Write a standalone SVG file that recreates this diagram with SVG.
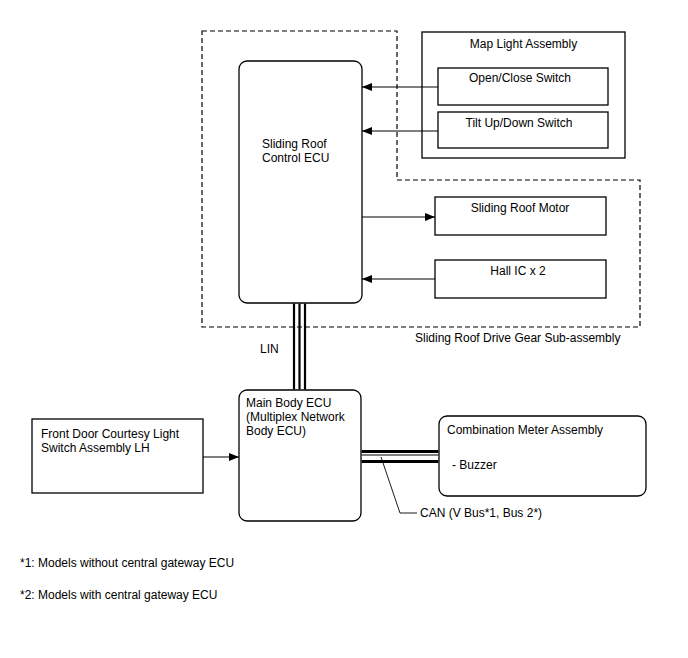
<svg xmlns="http://www.w3.org/2000/svg" width="688" height="658" viewBox="0 0 688 658">
<style>
text{font-family:"Liberation Sans",Arial,sans-serif;font-size:12px;fill:#000}
.box{fill:#fff;stroke:#000;stroke-width:1.3}
.ln{fill:none;stroke:#000;stroke-width:1.2}
.dash{fill:none;stroke:#000;stroke-width:1.2;stroke-dasharray:5,3}
.c{text-anchor:middle}
</style>
<defs>
<marker id="ah" markerWidth="10" markerHeight="8" refX="10" refY="4" orient="auto" markerUnits="userSpaceOnUse">
<path d="M0,0 L10,4 L0,8 Z" fill="#000"/>
</marker>
</defs>
<rect width="688" height="658" fill="#fff"/>

<g id="drive-gear-boundary">
<path class="dash" d="M202,31 H397 V180 H640 V327 H202 Z"/>
<text x="415" y="342">Sliding Roof Drive Gear Sub-assembly</text>
</g>

<g id="sliding-roof-ecu">
<rect class="box" x="239" y="61" width="123" height="242" rx="8"/>
<text x="262" y="148">Sliding Roof</text>
<text x="262" y="162">Control ECU</text>
</g>

<g id="map-light">
<rect class="box" x="422" y="32" width="203" height="126"/>
<text class="c" x="523.5" y="48">Map Light Assembly</text>
</g>
<g id="open-close-switch">
<rect class="box" x="438" y="68" width="170" height="37"/>
<text class="c" x="520" y="82">Open/Close Switch</text>
</g>
<g id="tilt-switch">
<rect class="box" x="438" y="112" width="170" height="36"/>
<text class="c" x="519" y="127">Tilt Up/Down Switch</text>
</g>

<g id="sliding-roof-motor">
<rect class="box" x="435" y="197" width="171" height="38"/>
<text class="c" x="520" y="212">Sliding Roof Motor</text>
</g>
<g id="hall-ic">
<rect class="box" x="435" y="260" width="171" height="38"/>
<text class="c" x="518" y="275">Hall IC x 2</text>
</g>

<g id="main-body-ecu">
<rect class="box" x="239" y="390" width="122" height="131" rx="8"/>
<text x="246" y="407">Main Body ECU</text>
<text x="246" y="421">(Multiplex Network</text>
<text x="246" y="435">Body ECU)</text>
</g>

<g id="front-door-switch">
<rect class="box" x="32" y="419" width="171" height="74"/>
<text x="41" y="438">Front Door Courtesy Light</text>
<text x="41" y="452">Switch Assembly LH</text>
</g>

<g id="combination-meter">
<rect class="box" x="439" y="416" width="207" height="80" rx="8"/>
<text x="447" y="434">Combination Meter Assembly</text>
<text x="452" y="469">- Buzzer</text>
</g>

<g id="connectors">
<line class="ln" x1="438" y1="87" x2="362" y2="87" marker-end="url(#ah)"/>
<line class="ln" x1="438" y1="131" x2="362" y2="131" marker-end="url(#ah)"/>
<line class="ln" x1="362" y1="217" x2="435" y2="217" marker-end="url(#ah)"/>
<line class="ln" x1="435" y1="279" x2="362" y2="279" marker-end="url(#ah)"/>
<line class="ln" x1="203" y1="457" x2="239" y2="457" marker-end="url(#ah)"/>
<g id="lin-bus">
<line x1="294" y1="303.6" x2="294" y2="389.4" stroke="#000" stroke-width="2.2"/>
<line x1="299.5" y1="303.6" x2="299.5" y2="389.4" stroke="#000" stroke-width="2.2"/>
<line x1="305" y1="303.6" x2="305" y2="389.4" stroke="#000" stroke-width="2.2"/>
<text x="260" y="353">LIN</text>
</g>
<g id="can-bus">
<line x1="361.6" y1="451.5" x2="438.4" y2="451.5" stroke="#000" stroke-width="3"/>
<line x1="361.6" y1="455" x2="438.4" y2="455" stroke="#000" stroke-width="1"/>
<line x1="361.6" y1="461.5" x2="438.4" y2="461.5" stroke="#000" stroke-width="3"/>
<polyline fill="none" stroke="#000" stroke-width="0.9" points="381,457 400,513 417,513"/>
<text x="420" y="517">CAN (V Bus*1, Bus 2*)</text>
</g>
</g>

<g id="notes">
<text x="20" y="567">*1: Models without central gateway ECU</text>
<text x="20" y="599">*2: Models with central gateway ECU</text>
</g>
</svg>
